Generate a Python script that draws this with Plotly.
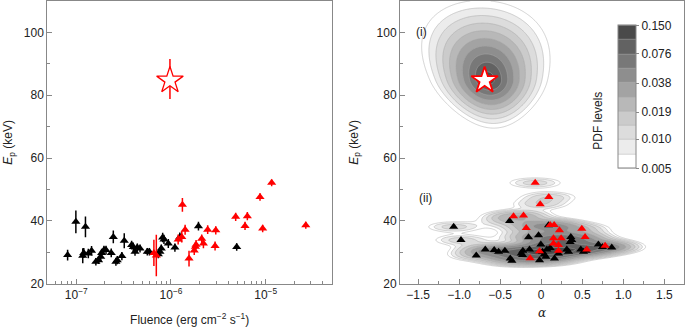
import numpy as np
import plotly.graph_objects as go

# ---------------- Left panel data: fluence vs Ep ----------------
black_fluence = [8.1e-8, 9.9e-8, 1.17e-7, 1.25e-7, 1.20e-7, 1.34e-7, 1.45e-7, 1.61e-7, 1.72e-7,
                 1.81e-7, 1.85e-7, 1.96e-7, 2.06e-7, 2.34e-7, 2.46e-7, 2.62e-7, 2.71e-7, 3.03e-7,
                 3.21e-7, 3.84e-7, 4.00e-7, 4.17e-7, 4.41e-7, 4.71e-7, 5.62e-7, 5.91e-7, 7.35e-7,
                 7.65e-7, 7.90e-7, 8.17e-7, 8.43e-7, 9.37e-7, 1.10e-6, 1.24e-6, 1.95e-6, 4.94e-6]
black_ep = [29.1, 39.7, 28.9, 38.1, 29.8, 29.6, 30.5, 27.0, 27.5,
            28.6, 29.8, 30.7, 30.7, 29.8, 34.9, 27.0, 27.5, 28.8,
            33.7, 32.3, 31.7, 30.2, 31.5, 31.2, 30.2, 30.2, 29.4,
            30.2, 31.2, 34.7, 34.1, 32.8, 31.5, 34.9, 38.3, 31.7]
black_err = [1.7, 3.6, 2.4, 3.3, 1.6, 1.5, 1.5, 1.2, 1.2,
             1.3, 1.3, 1.4, 1.4, 1.4, 2.0, 1.3, 1.3, 1.3,
             2.4, 1.4, 1.4, 1.3, 1.3, 1.3, 1.2, 1.2, 1.3,
             1.3, 1.3, 1.5, 1.5, 1.4, 1.3, 1.4, 1.4, 1.2]

red_fluence = [6.6e-7, 7.0e-7, 1.19e-6, 1.32e-6, 1.30e-6, 1.41e-6, 1.55e-6, 1.76e-6, 1.81e-6,
               1.84e-6, 2.11e-6, 2.20e-6, 2.44e-6, 2.92e-6, 2.97e-6, 4.82e-6, 6.05e-6, 6.40e-6,
               8.71e-6, 9.29e-6, 1.156e-5, 2.65e-5]
red_ep = [29.8, 29.0, 34.1, 45.1, 34.9, 37.2, 28.0, 30.6, 31.8,
          32.4, 34.3, 32.8, 37.2, 32.0, 37.0, 41.3, 38.4, 41.5,
          47.6, 37.6, 52.1, 38.6]
red_err = [4.2, 6.6, 1.6, 2.2, 1.8, 1.6, 2.5, 1.5, 1.5,
           1.5, 1.4, 1.5, 1.4, 1.4, 1.3, 1.3, 1.3, 1.3,
           1.2, 1.2, 1.1, 1.1]

star_fluence = [9.75e-7]
star_ep = [84.7]
star_err_plus = [6.8]
star_err_minus = [5.9]

# ---------------- Right panel data: alpha vs Ep ----------------
black_alpha = [-1.066, -0.977, -0.791, -0.681, -0.572, -0.519, -0.442, -0.385, -0.377, -0.357,
               -0.243, -0.223, -0.227, -0.154, -0.142, -0.032, -0.020, -0.004, 0.016, 0.036,
               0.057, 0.069, 0.089, 0.109, 0.162, 0.211, 0.312, 0.333, 0.353, 0.361,
               0.373, 0.483, 0.515, 0.547, 0.697, 0.746, 0.860]
black_ep_r = [38.1, 33.9, 29.0, 30.9, 30.7, 30.2, 30.5, 40.0, 28.0, 27.3,
              29.6, 30.5, 29.1, 34.8, 30.9, 35.4, 27.5, 32.5, 30.2, 29.3,
              28.6, 30.9, 38.6, 31.4, 28.0, 29.6, 30.9, 30.2, 33.3, 34.9,
              33.9, 30.9, 30.2, 30.5, 32.5, 31.7, 31.5]
red_alpha = [-0.073, 0.093, -0.012, -0.337, -0.215, -0.182, 0.109, 0.158, 0.223, 0.495,
             0.150, 0.243, 0.535, 0.150, 0.211, 0.211, -0.134, -0.020, 0.556, 0.779]
red_ep_r = [52.1, 47.6, 45.3, 41.5, 41.7, 37.7, 38.7, 38.7, 37.0, 37.5,
            34.5, 34.5, 34.9, 32.8, 32.3, 30.5, 28.1, 30.3, 30.9, 32.1]
star_alpha = [-0.689]
star_ep_r = [84.7]

# PDF colour levels
pdf_tick_values = [0.005, 0.010, 0.019, 0.038, 0.076, 0.150]
pdf_tick_labels = ["0.005", "0.010", "0.019", "0.038", "0.076", "0.150"]
band_colors = ["#ffffff", "#ececec", "#dcdcdc", "#cbcbcb", "#b8b8b8",
               "#a3a3a3", "#8e8e8e", "#787878", "#626262", "#4a4a4a"]

# density model parameters
KDE_PEAK, BW_A, BW_E = 0.012, 0.23, 1.2
POST_PEAK, POST_A0, POST_E0, POST_SLOPE = 0.12, -0.64, 85.0, -0.004
POST_SA, POST_SA_GROW, POST_SE_UP, POST_SE_DN = 0.2, 0.0035, 7.0, 4.3

W, H = 685, 327
def px_x(p): return p / W
def px_y(p): return (H - p) / H

ga = np.linspace(-1.75, 1.75, 351)
ge = np.linspace(20, 110, 451)
A, E = np.meshgrid(ga, ge)
pdf = np.zeros_like(A)
for a, e in zip(black_alpha + red_alpha, black_ep_r + red_ep_r):
    pdf += KDE_PEAK * np.exp(-0.5 * (((A - a) / BW_A) ** 2 + ((E - e) / BW_E) ** 2))
mu_a = POST_A0 + POST_SLOPE * (E - POST_E0)
sd_a = np.clip(POST_SA + POST_SA_GROW * (E - POST_E0), 0.12, None)
sd_e = np.where(E > POST_E0, POST_SE_UP, POST_SE_DN)
r = np.sqrt(((A - mu_a) / sd_a) ** 2 + ((E - POST_E0) / sd_e) ** 2 + 0.2)
pdf += POST_PEAK * np.exp(-(r - np.sqrt(0.2)))
z = np.log10(np.maximum(pdf, 1e-6))

LMIN, LMAX = np.log10(0.005), np.log10(0.15)
cs = []
for i, c in enumerate(band_colors):
    cs.append([i / 10, c])
    cs.append([(i + 1) / 10, c])

fig = go.Figure()

fig.add_trace(go.Contour(
    x=ga, y=ge, z=z, xaxis="x2", yaxis="y2",
    zmin=LMIN, zmax=LMAX, colorscale=cs, autocontour=False,
    contours=dict(start=LMIN, end=LMAX, size=(LMAX - LMIN) / 10, coloring="fill"),
    line=dict(color="#a8a8a8", width=0.5),
    hoverinfo="skip",
    colorbar=dict(
        x=px_x(618.3), xanchor="left", y=px_y(168.3), yanchor="bottom",
        len=143.3 / H, lenmode="fraction", thickness=18, thicknessmode="pixels",
        outlinewidth=1, outlinecolor="#888888", ticks="outside", ticklen=3,
        tickcolor="#888888", xpad=0, ypad=0,
        tickvals=[np.log10(v) for v in pdf_tick_values], ticktext=pdf_tick_labels,
        tickfont=dict(family="Liberation Sans, Arial, sans-serif", size=12, color="#222222"),
    ),
))

# left panel
fig.add_trace(go.Scatter(
    x=black_fluence, y=black_ep, mode="markers",
    marker=dict(symbol="triangle-up", size=8, color="black"),
    error_y=dict(type="data", array=black_err, width=0, thickness=1.5, color="black"),
    xaxis="x", yaxis="y"))
fig.add_trace(go.Scatter(
    x=red_fluence, y=red_ep, mode="markers",
    marker=dict(symbol="triangle-up", size=8, color="red"),
    error_y=dict(type="data", array=red_err, width=0, thickness=1.5, color="red"),
    xaxis="x", yaxis="y"))
fig.add_trace(go.Scatter(
    x=star_fluence, y=star_ep, mode="markers",
    marker=dict(symbol="star", size=20, color="white", line=dict(color="red", width=1.3)),
    error_y=dict(type="data", symmetric=False, array=star_err_plus, arrayminus=star_err_minus,
                 width=0, thickness=1.5, color="red"),
    xaxis="x", yaxis="y"))

# right panel
fig.add_trace(go.Scatter(
    x=black_alpha, y=black_ep_r, mode="markers",
    marker=dict(symbol="triangle-up", size=8, color="black"),
    xaxis="x2", yaxis="y2"))
fig.add_trace(go.Scatter(
    x=red_alpha, y=red_ep_r, mode="markers",
    marker=dict(symbol="triangle-up", size=8, color="red"),
    xaxis="x2", yaxis="y2"))
fig.add_trace(go.Scatter(
    x=star_alpha, y=star_ep_r, mode="markers",
    marker=dict(symbol="star", size=20, color="white", line=dict(color="red", width=1.8)),
    xaxis="x2", yaxis="y2"))

axcol = "#888888"
font = dict(family="Liberation Sans, Arial, sans-serif", size=12, color="#222222")
common = dict(showline=True, linecolor=axcol, linewidth=1, mirror=True, ticks="inside",
              ticklen=5, tickcolor=axcol, showgrid=False, zeroline=False,
              automargin=False, tickfont=font)

ydom = [px_y(283.7), px_y(1.0)]
fig.update_layout(
    width=W, height=H, template="none", showlegend=False,
    margin=dict(l=0, r=0, t=0, b=0, autoexpand=False),
    paper_bgcolor="white", plot_bgcolor="white", font=font,
    xaxis=dict(domain=[px_x(47.3), px_x(332)], type="log", range=[-7.306, -4.30],
               tickvals=[1e-7, 1e-6, 1e-5],
               ticktext=["10<sup>−7</sup>", "10<sup>−6</sup>", "10<sup>−5</sup>"],
               minor=dict(ticks="inside", ticklen=3, tickcolor=axcol, dtick="D1"),
               title=dict(text="Fluence (erg cm<sup>−2</sup> s<sup>−1</sup>)", font=font, standoff=14),
               anchor="y", **common),
    yaxis=dict(domain=ydom, range=[20, 110], tickvals=[20, 40, 60, 80, 100],
               minor=dict(ticks="inside", ticklen=3, tickcolor=axcol, dtick=10),
               title=dict(text="<i>E</i><sub>p</sub> (keV)", font=font, standoff=8),
               anchor="x", **common),
    xaxis2=dict(domain=[px_x(400), px_x(684)], range=[-1.72, 1.74],
                tickvals=[-1.5, -1.0, -0.5, 0, 0.5, 1.0, 1.5],
                ticktext=["−1.5", "−1.0", "−0.5", "0", "0.5", "1.0", "1.5"],
                minor=dict(ticks="inside", ticklen=3, tickcolor=axcol, dtick=0.25),
                title=dict(text="<i>α</i>", font=dict(family="DejaVu Serif, serif", size=12, color="#222222"), standoff=7),
                anchor="y2", **common),
    yaxis2=dict(domain=ydom, range=[20, 110], tickvals=[20, 40, 60, 80, 100],
                minor=dict(ticks="inside", ticklen=3, tickcolor=axcol, dtick=10),
                title=dict(text="<i>E</i><sub>p</sub> (keV)", font=font, standoff=15),
                anchor="x2", **common),
    annotations=[
        dict(text="(i)", x=px_x(421.7), y=px_y(22.7), xref="paper", yref="paper",
             showarrow=False, font=font),
        dict(text="(ii)", x=px_x(425.7), y=px_y(198.3), xref="paper", yref="paper",
             showarrow=False, font=font),
        dict(text="PDF levels", x=px_x(606.7), y=px_y(90), xref="paper", yref="paper",
             showarrow=False, textangle=-90, font=font),
    ],
)

fig.write_html("out.html", config={"displayModeBar": False},
               post_script="document.body.style.margin='0px';document.body.style.overflow='hidden';")
